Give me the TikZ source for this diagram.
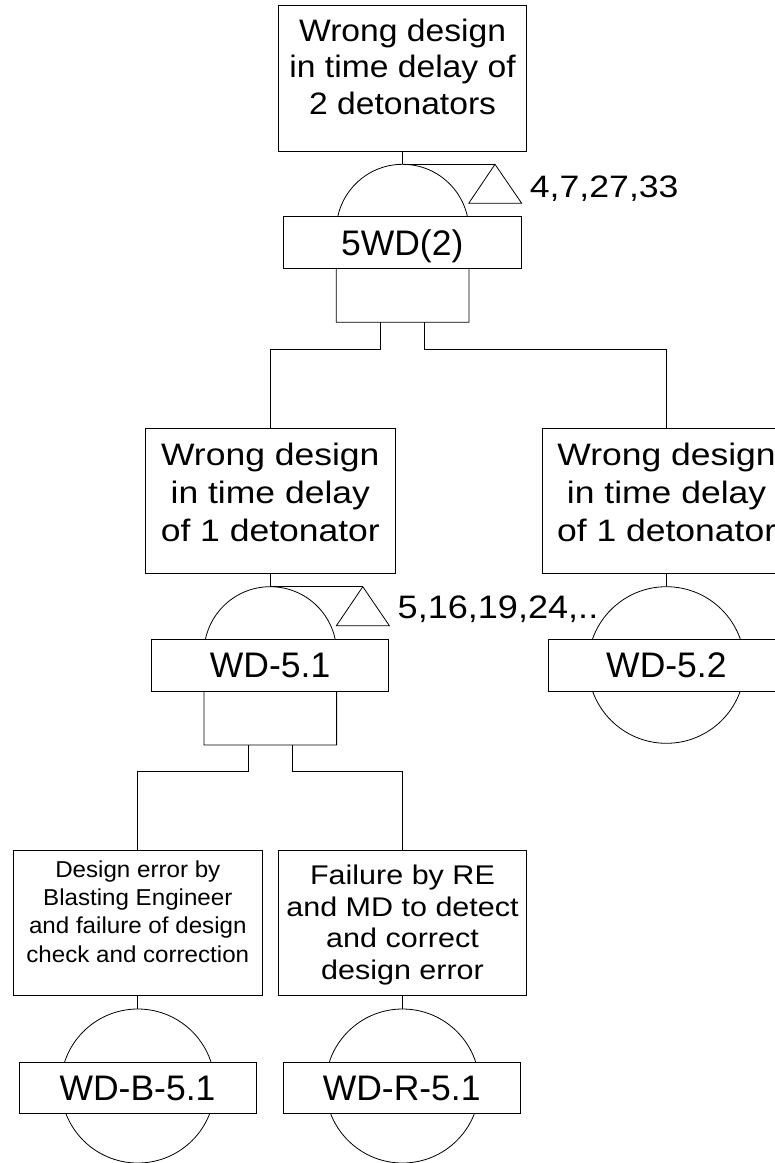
\documentclass[tikz,border=0pt]{standalone}
\usepackage{fontspec}
\setmainfont{Liberation Sans}
\newfontfamily\fTop[FakeStretch=1.085]{Liberation Sans}
\newfontfamily\fMid[FakeStretch=1.145]{Liberation Sans}
\newfontfamily\fBL[FakeStretch=1.05]{Liberation Sans}
\newfontfamily\fBR[FakeStretch=1.13]{Liberation Sans}
\newfontfamily\fTriA[FakeStretch=1.15]{Liberation Sans}
\newfontfamily\fTriB[FakeStretch=1.11]{Liberation Sans}
\newcommand{\ftblock}[4]{{#1\fontsize{#2}{#3}\selectfont\begin{tabular}[t]{@{}c@{}}#4\end{tabular}}}
\begin{document}
\begin{tikzpicture}[x=1pt,y=-1pt,line width=0.8pt,
  evbox/.style={draw,rectangle,inner sep=0pt,fill=white},
  lbl/.style={draw,rectangle,fill=white,inner sep=0pt,text height=25pt,text depth=0pt,
    font=\fontsize{35.5}{40}\selectfont},
  txt/.style={anchor=base,inner sep=0pt},
  tri/.style={draw}]
\useasboundingbox (0,0) rectangle (775,1163);

% ---------- top event ----------
\node[evbox,minimum width=248.4pt,minimum height=146pt] (top) at (402.6,78) {};
\node[txt] (toptxt) at (402.6,41.5) {\ftblock{\fTop}{31}{36.3}{Wrong design\\in time delay of\\2 detonators}};

% AND gate 1
\coordinate (g1top) at (402.6,164.3);
\draw (336.3,230.6) arc[start angle=180,end angle=360,radius=66.3] -- (468.9,322.3) -- (336.3,322.3) -- cycle;
\node[lbl,minimum width=237.4pt,minimum height=52pt] (g1lbl) at (402.2,242.7) {5WD(2)};
\draw (top.south) -- (g1top);
\coordinate (t1) at (495,164.3);
\draw (g1top) -- (t1);
\draw[tri] (t1) -- (468.7,203.3) -- (521.7,203.3) -- cycle;
\node[txt,anchor=base west] (t1lbl) at (529.5,197) {\fTriA\fontsize{31}{33}\selectfont 4,7,27,33};
\coordinate (g1L) at (380.6,322.3);
\coordinate (g1R) at (424.6,322.3);

% ---------- middle events ----------
\node[evbox,minimum width=249.3pt,minimum height=145pt] (mL) at (270.3,500.8) {};
\node[txt] (mLtxt) at (270.3,465.7) {\ftblock{\fMid}{31}{38}{Wrong design\\in time delay\\of 1 detonator}};
\node[evbox,minimum width=249.3pt,minimum height=145pt] (mR) at (666.6,500.8) {};
\node[txt] (mRtxt) at (666.6,465.7) {\ftblock{\fMid}{31}{38}{Wrong design\\in time delay\\of 1 detonator}};
\draw (g1L) -- ++(0,26.7) -| (mL.north);
\draw (g1R) -- ++(0,26.7) -| (mR.north);

% AND gate 2
\coordinate (g2top) at (270.3,586.7);
\draw (204,653) arc[start angle=180,end angle=360,radius=66.3] -- (336.6,745) -- (204,745) -- cycle;
\node[lbl,minimum width=236.6pt,minimum height=51.7pt] (g2lbl) at (270.1,665.15) {WD-5.1};
\draw (mL.south) -- (g2top);
\coordinate (t2) at (362.8,586.7);
\draw (g2top) -- (t2);
\draw[tri] (t2) -- (336.4,625.7) -- (389.4,625.7) -- cycle;
\node[txt,anchor=base west] (t2lbl) at (397.3,618.3) {\fTriB\fontsize{32.5}{34}\selectfont 5,16,19,24,..};
\coordinate (g2L) at (248.3,745);
\coordinate (g2R) at (292.3,745);

% basic event WD-5.2
\node[draw,circle,minimum size=156.6pt,inner sep=0pt] (c52) at (666.4,665) {};
\node[lbl,minimum width=236pt,minimum height=51.7pt] (l52) at (666.4,665.15) {WD-5.2};
\draw (mR.south) -- (c52.north);

% ---------- bottom events ----------
\node[evbox,minimum width=249pt,minimum height=145.7pt] (bL) at (137.8,922.85) {};
\node[txt] (bLtxt) at (137.8,877.3) {\ftblock{\fBL}{23}{28.3}{Design error by\\Blasting Engineer\\and failure of design\\check and correction}};
\node[evbox,minimum width=248.4pt,minimum height=145.7pt] (bR) at (402.5,922.85) {};
\node[txt] (bRtxt) at (402.5,884.5) {\ftblock{\fBR}{27}{31.6}{Failure by RE\\and MD to detect\\and correct\\design error}};
\draw (g2L) -- ++(0,26.2) -| (bL.north);
\draw (g2R) -- ++(0,26.2) -| (bR.north);

\node[draw,circle,minimum size=154pt,inner sep=0pt] (cB) at (137.8,1086) {};
\node[lbl,minimum width=237pt,minimum height=51.3pt] (lB) at (137.5,1087.7) {WD-B-5.1};
\draw (bL.south) -- (cB.north);
\node[draw,circle,minimum size=154pt,inner sep=0pt] (cR) at (402.5,1086) {};
\node[lbl,minimum width=236.7pt,minimum height=51.3pt] (lR) at (401.7,1087.7) {WD-R-5.1};
\draw (bR.south) -- (cR.north);
\end{tikzpicture}
\end{document}
